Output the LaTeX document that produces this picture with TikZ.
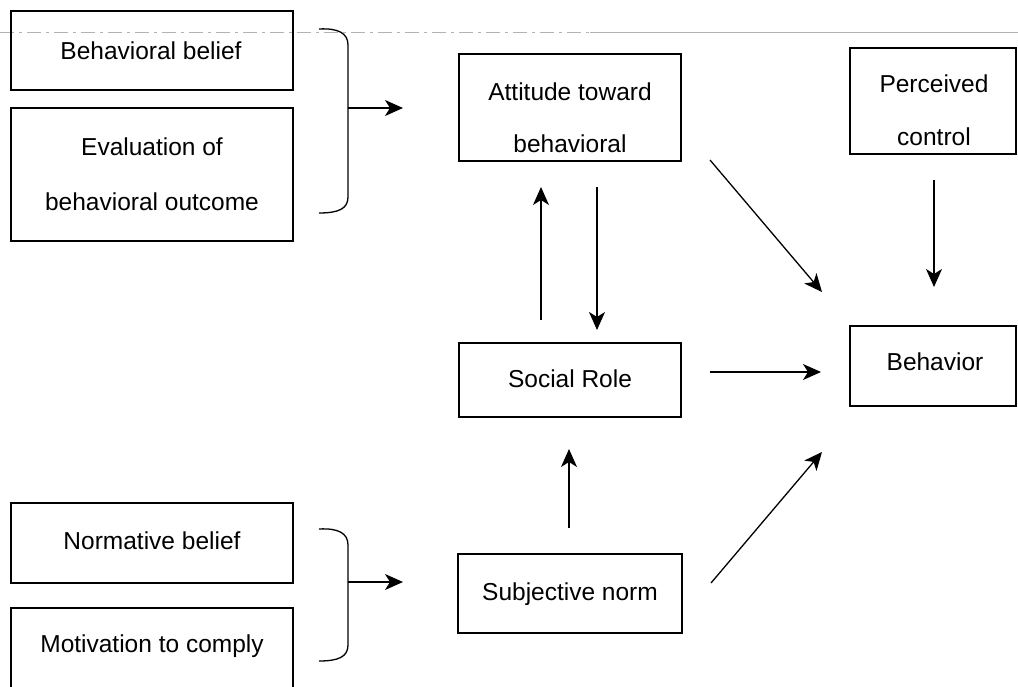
\documentclass[tikz,border=0pt]{standalone}
\usepackage{fontspec}
\setmainfont{Liberation Sans}
\usetikzlibrary{arrows.meta}
\begin{document}
\begin{tikzpicture}[x=1pt,y=-1pt,
  box/.style={draw, line width=1.8pt, inner sep=0pt, outer sep=0pt},
  txt/.style={anchor=base, inner sep=0pt, font=\fontsize{24.5}{30}\selectfont},
  conn/.style={line width=1.3pt, -{Stealth[length=18pt,width=16pt,inset=5pt]}},
  bracestyle/.style={line width=1.3pt},
  scanline/.style={gray!60, line width=0.8pt}]
\useasboundingbox (0,0) rectangle (1018,686);
\clip (0,0) rectangle (1018,686);
% faint scan line
\draw[scanline, dash pattern=on 14pt off 5pt on 3pt off 5pt] (0,32) -- (590,32);
\draw[scanline] (590,32) -- (1018,32);
% boxes
\node[box, minimum width=282pt, minimum height=79pt]  (bb)  at (152,50.5) {};
\node[box, minimum width=282pt, minimum height=133pt] (ev)  at (152,174.5) {};
\node[box, minimum width=222pt, minimum height=107pt] (att) at (570,107.5) {};
\node[box, minimum width=166pt, minimum height=106pt] (pc)  at (933,101) {};
\node[box, minimum width=222pt, minimum height=74pt]  (sr)  at (570,380) {};
\node[box, minimum width=166pt, minimum height=80pt]  (beh) at (933,366) {};
\node[box, minimum width=224pt, minimum height=79pt]  (sn)  at (570,593.5) {};
\node[box, minimum width=282pt, minimum height=80pt]  (nb)  at (152,543) {};
\node[box, minimum width=282pt, minimum height=92pt]  (mc)  at (152,654) {};
% texts
\node[txt] (bbT)   at (151,59.5) {Behavioral belief};
\node[txt] (evT1)  at (152,155.5) {Evaluation of};
\node[txt] (evT2)  at (152,210) {behavioral outcome};
\node[txt] (attT1) at (570,100.5) {Attitude toward};
\node[txt] (attT2) at (570,152) {behavioral};
\node[txt] (pcT1)  at (934,92.5) {Perceived};
\node[txt] (pcT2)  at (934,145) {control};
\node[txt] (srT)   at (570,387.5) {Social Role};
\node[txt] (behT)  at (935,370.5) {Behavior};
\node[txt] (snT)   at (570,600.5) {Subjective norm};
\node[txt] (nbT)   at (152,549.5) {Normative belief};
\node[txt] (mcT)   at (152,652.5) {Motivation to comply};
% braces
\draw[bracestyle] (319,29) .. controls (338,28) and (348,33) .. (348,45) -- (348,197) .. controls (348,209) and (338,213) .. (319,213);
\draw[bracestyle] (319,529) .. controls (338,528) and (348,533) .. (348,545) -- (348,645) .. controls (348,657) and (338,661) .. (319,661);
\coordinate (br1) at (348,108);
\coordinate (br1e) at (403,108);
\coordinate (br2) at (348,582);
\coordinate (br2e) at (403,582);
\draw[conn] (br1) -- (br1e);
\draw[conn] (br2) -- (br2e);
% connectors
\draw[conn, shorten <=23pt, shorten >=26pt] ([xshift=-29pt]sr.north) -- ([xshift=-29pt]att.south);
\draw[conn, shorten <=26pt, shorten >=13pt] ([xshift=27pt]att.south) -- ([xshift=27pt]sr.north);
\draw[conn, shorten <=26pt, shorten >=39pt] ([xshift=1pt]pc.south) -- ([xshift=1pt]beh.north);
\draw[conn, shorten <=26pt, shorten >=32pt] ([xshift=-1pt]sn.north) -- ([xshift=-1pt]sr.south);
\coordinate (d1s) at (710,160);
\coordinate (d1e) at (822,292);
\coordinate (h1s) at (710,372);
\coordinate (h1e) at (821,372);
\coordinate (d2s) at (711,583);
\coordinate (d2e) at (822,452);
\draw[conn] (d1s) -- (d1e);
\draw[conn] (h1s) -- (h1e);
\draw[conn] (d2s) -- (d2e);
\end{tikzpicture}
\end{document}
